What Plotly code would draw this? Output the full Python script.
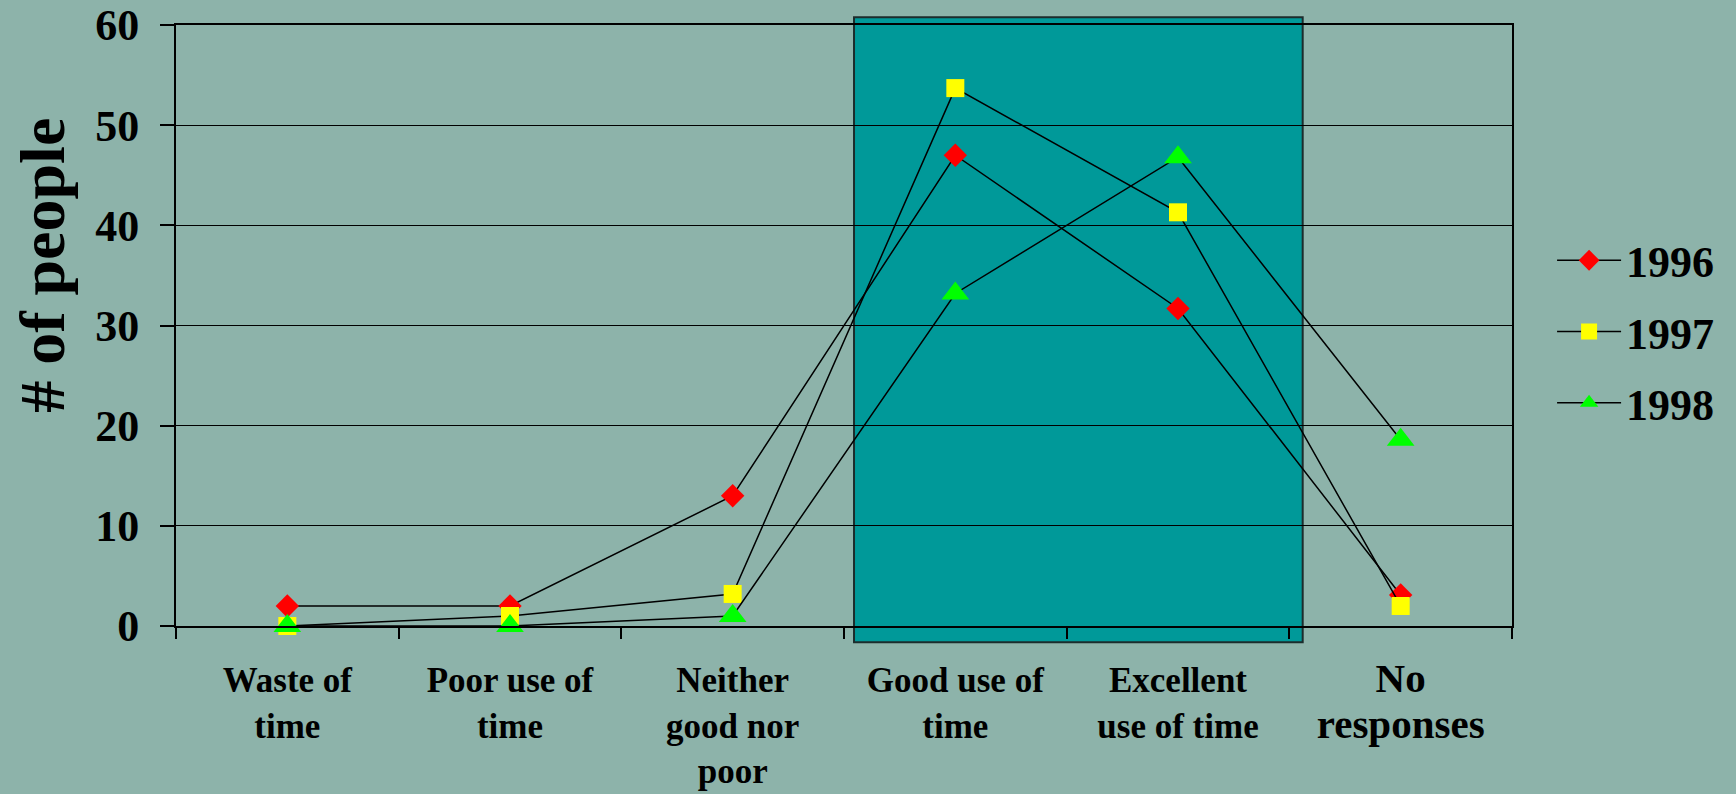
import plotly.graph_objects as go

categories = ["Waste of time", "Poor use of time", "Neither good nor poor",
              "Good use of time", "Excellent use of time", "No responses"]
tick_labels = ["Waste of<br>time", "Poor use of<br>time", "Neither<br>good nor<br>poor",
               "Good use of<br>time", "Excellent<br>use of time",
               "<span style='font-size:41px'>No<br>responses</span>"]
y1996 = [2, 2, 13, 47, 31.7, 3.1]
y1997 = [0, 1, 3.2, 53.7, 41.3, 2]
y1998 = [0, 0, 1, 33.2, 46.8, 18.6]
y_ticks = [0, 10, 20, 30, 40, 50, 60]

FONT = "Liberation Serif"
BG = "#8db3aa"

fig = go.Figure()
series = [
    ("1996", y1996, "diamond", "#ff0000", 18),
    ("1997", y1997, "square", "#ffff00", 18),
    ("1998", y1998, "triangle-up", "#00ff00", 24),
]
for name, vals, sym, col, size in series:
    fig.add_trace(go.Scatter(
        x=categories, y=vals, name=name, mode="lines+markers",
        line=dict(color="black", width=1.5),
        marker=dict(symbol=sym, color=col, size=size, line=dict(width=0)),
        cliponaxis=False, legendgroup=name,
    ))

# highlighted teal panel behind the "Good" and "Excellent" categories
fig.add_shape(type="rect", xref="x", yref="paper",
              x0=2.545, x1=4.56, y0=-0.027, y1=1.013,
              fillcolor="#009999", line=dict(color="#1c2c2c", width=2),
              layer="below")

fig.add_annotation(text="# of people", textangle=-90, xref="paper", yref="paper",
                   x=-0.1, y=0.6, xanchor="center", yanchor="middle",
                   showarrow=False,
                   font=dict(family=FONT, size=64, color="black", weight="bold"))

fig.update_layout(
    width=1736, height=794,
    margin=dict(l=176, r=224, t=25, b=168, autoexpand=False),
    paper_bgcolor=BG, plot_bgcolor=BG,
    showlegend=True,
    legend=dict(x=1.03, y=0.667, xanchor="left", yanchor="top",
                bgcolor="rgba(0,0,0,0)", tracegroupgap=11, itemwidth=64,
                font=dict(family=FONT, size=44, color="black", weight="bold")),
    xaxis=dict(
        type="category", range=[-0.5, 5.5], automargin=False,
        tickmode="array", tickvals=categories, ticktext=tick_labels,
        tickson="boundaries", ticks="outside", ticklen=11, tickwidth=1.5,
        tickcolor="black", showgrid=False,
        showline=True, linecolor="black", linewidth=2, mirror=True,
        ticklabelstandoff=22,
        tickfont=dict(family=FONT, size=35, color="black", weight="bold"),
    ),
    yaxis=dict(
        range=[0, 60], tickvals=y_ticks, ticks="outside", ticklen=14,
        tickwidth=1.5, tickcolor="black", automargin=False,
        showgrid=True, gridcolor="black", gridwidth=1.2,
        showline=True, linecolor="black", linewidth=2, mirror=True,
        zeroline=False, ticklabelstandoff=12,
        tickfont=dict(family=FONT, size=44, color="black", weight="bold"),
    ),
)

fig.write_html("out.html", config={"displayModeBar": False},
               post_script="document.body.style.margin='0px';"
                           "document.body.style.overflow='hidden';")
